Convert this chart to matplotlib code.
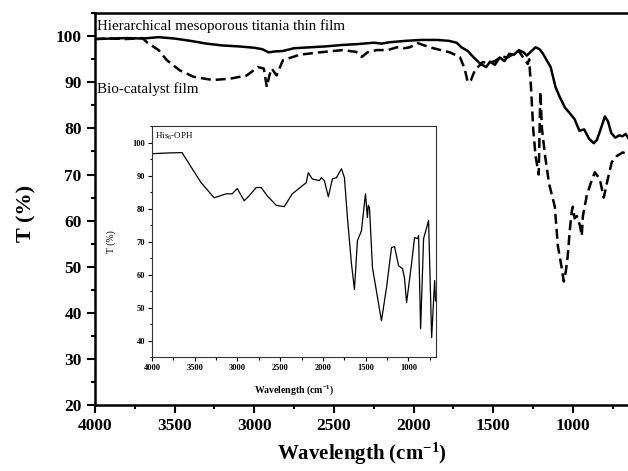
import numpy as np
import matplotlib
matplotlib.use('Agg')
import matplotlib.pyplot as plt
from matplotlib.ticker import MultipleLocator

plt.rcParams['font.family'] = 'Liberation Serif'
plt.rcParams['mathtext.fontset'] = 'custom'
plt.rcParams['mathtext.rm'] = 'Liberation Serif'
plt.rcParams['mathtext.bf'] = 'Liberation Serif:bold'
plt.rcParams['mathtext.default'] = 'regular'

# titania thin film (solid)
wn_film = [4000, 3900, 3800, 3700, 3600, 3500, 3400, 3300, 3200, 3100, 3000, 2950, 2910,
           2870, 2820, 2750, 2650, 2550, 2450, 2350, 2250, 2200, 2150, 2050, 1950, 1850,
           1780, 1730, 1700, 1660, 1620, 1580, 1545, 1520, 1490, 1460, 1430, 1400, 1370,
           1340, 1310, 1290, 1260, 1235, 1210, 1190, 1160, 1140, 1110, 1083, 1050, 1020,
           990, 960, 930, 900, 870, 850, 820, 800, 780, 760, 735, 710, 690, 670, 655]
t_film = [99.4, 99.5, 99.6, 99.5, 99.8, 99.5, 99.0, 98.4, 98.0, 97.8, 97.5, 97.2, 96.5,
          96.7, 96.8, 97.4, 97.6, 97.8, 98.1, 98.3, 98.6, 98.4, 98.7, 99.0, 99.2, 99.2,
          99.0, 98.6, 97.6, 96.8, 95.3, 94.0, 93.3, 94.5, 93.8, 95.4, 94.6, 96.2, 96.0,
          97.0, 96.5, 95.8, 96.8, 97.6, 97.2, 96.3, 94.5, 93.3, 89.0, 86.8, 84.5, 83.3,
          82.0, 79.5, 79.8, 77.8, 76.8, 77.5, 80.5, 82.6, 81.5, 79.0, 78.0, 78.5, 78.3,
          78.8, 78.0]

# bio-catalyst film (dashed)
wn_bio = [4000, 3900, 3800, 3700, 3674, 3600, 3548, 3467, 3380, 3260, 3150, 3047, 2976,
          2940, 2921, 2905, 2890, 2860, 2820, 2714, 2590, 2444, 2360, 2325, 2290, 2231,
          2162, 2106, 2060, 2024, 1974, 1898, 1773, 1710, 1680, 1660, 1640, 1616, 1566,
          1530, 1490, 1450, 1410, 1370, 1340, 1315, 1284, 1275, 1262, 1250, 1235, 1215,
          1205, 1195, 1175, 1150, 1114, 1095, 1070, 1058, 1045, 1033, 1020, 1008, 1001,
          990, 976, 957, 945, 938, 914, 890, 863, 832, 807, 782, 757, 726, 688, 656]
t_bio = [99.4, 99.5, 99.4, 99.6, 98.7, 97.0, 94.8, 92.6, 91.2, 90.5, 90.8, 91.5, 93.3,
         93.0, 89.0, 91.5, 93.0, 91.5, 94.8, 96.0, 96.5, 97.0, 96.6, 95.5, 96.5, 97.0,
         97.0, 97.6, 97.4, 97.6, 98.5, 97.6, 96.5, 95.5, 93.0, 90.0, 90.5, 92.6, 94.4,
         94.2, 94.6, 95.6, 95.4, 96.2, 96.8, 95.5, 94.0, 95.0, 88.0, 80.0, 74.0, 70.0,
         88.0, 80.0, 74.0, 68.0, 63.0, 54.5, 49.6, 46.8, 49.0, 52.4, 58.0, 62.0, 63.0,
         60.5, 61.0, 59.0, 56.7, 61.0, 65.4, 68.0, 70.5, 69.0, 65.0, 69.0, 72.7, 74.0,
         74.8, 74.4]

# His6-OPH (inset)
wn_oph = [4000, 3977, 3800, 3648, 3566, 3426, 3273, 3132, 3062, 3003, 2921, 2863, 2781,
          2722, 2652, 2546, 2453, 2359, 2195, 2183, 2171, 2136, 2124, 2042, 2019, 1984,
          1937, 1890, 1843, 1784, 1749, 1714, 1667, 1632, 1597, 1550, 1503, 1480, 1470,
          1456, 1421, 1316, 1257, 1198, 1163, 1116, 1069, 1046, 1022, 964, 929, 893, 882,
          858, 823, 765, 729, 694, 684]
t_oph = [96.6, 96.7, 96.9, 97.0, 93.6, 87.9, 83.3, 84.5, 84.5, 86.1, 82.4, 83.9, 86.4,
         86.4, 83.9, 81.0, 80.6, 84.5, 87.9, 89.5, 90.9, 89.4, 89.0, 88.5, 89.4, 88.5,
         83.6, 89.0, 89.4, 92.1, 89.4, 77.3, 63.3, 55.5, 70.3, 73.3, 84.5, 77.3, 81.0,
         80.3, 62.1, 46.0, 56.0, 68.2, 68.5, 62.7, 61.8, 58.8, 51.5, 63.3, 71.2, 70.9,
         71.8, 43.6, 70.9, 76.4, 40.9, 58.2, 52.0]

fig = plt.figure(figsize=(6.28, 4.71), dpi=100)
ax = fig.add_axes([0.151, 0.140, 0.849, 0.832])

ax.plot(wn_film, t_film, color='black', lw=1.8)
ax.plot(wn_bio, t_bio, color='black', lw=1.8, ls=(0, (4, 2)))

ax.set_xlim(4000, 655)
ax.set_ylim(20, 105)
ax.xaxis.set_major_locator(MultipleLocator(500))
ax.xaxis.set_minor_locator(MultipleLocator(250))
ax.yaxis.set_major_locator(MultipleLocator(10))
ax.yaxis.set_minor_locator(MultipleLocator(5))
ax.tick_params(which='major', direction='out', length=6, width=1.5, labelsize=12.5)
ax.tick_params(which='minor', direction='out', length=3, width=1.5)
ax.tick_params(top=False, right=False)
for lab in ax.get_xticklabels() + ax.get_yticklabels():
    lab.set_fontweight('bold')
for s in ['left', 'bottom', 'top']:
    ax.spines[s].set_linewidth(1.8)
ax.spines['right'].set_visible(False)

ax.set_xlabel('Wavelength (cm$^{-1}$)', fontsize=15, fontweight='bold')
ax.xaxis.set_label_coords(0.5, -0.092)
ax.set_ylabel('T (%)', fontsize=16, fontweight='bold')
ax.yaxis.set_label_coords(-0.11, 0.49)

ax.text(3985, 102.3, 'Hierarchical mesoporous titania thin film', fontsize=10.8, va='center')
ax.text(3985, 88.5, 'Bio-catalyst film', fontsize=10.8, va='center')

# inset
ins = fig.add_axes([0.242, 0.242, 0.452, 0.490])
ins.plot(wn_oph, t_oph, color='black', lw=0.9)
ins.set_xlim(4000, 680)
ins.set_ylim(35, 105)
ins.xaxis.set_major_locator(MultipleLocator(500))
ins.xaxis.set_minor_locator(MultipleLocator(250))
ins.yaxis.set_minor_locator(MultipleLocator(5))
ins.set_yticks([40, 50, 60, 70, 80, 90, 100])
ins.tick_params(which='major', direction='out', length=3, width=0.8, labelsize=6, pad=2)
ins.tick_params(which='minor', direction='out', length=1.8, width=0.8)
for lab in ins.get_xticklabels() + ins.get_yticklabels():
    lab.set_fontweight('bold')
for s in ins.spines.values():
    s.set_linewidth(0.8)
    s.set_color('#333333')
ins.set_xlabel('Wavelength (cm$^{-1}$)', fontsize=7, fontweight='bold', labelpad=8)
ins.set_ylabel('T (%)', fontsize=7, labelpad=12)
ins.text(3960, 102, 'His$_6$-OPH', fontsize=6.5, va='center')

fig.savefig('out.png', dpi=100)
